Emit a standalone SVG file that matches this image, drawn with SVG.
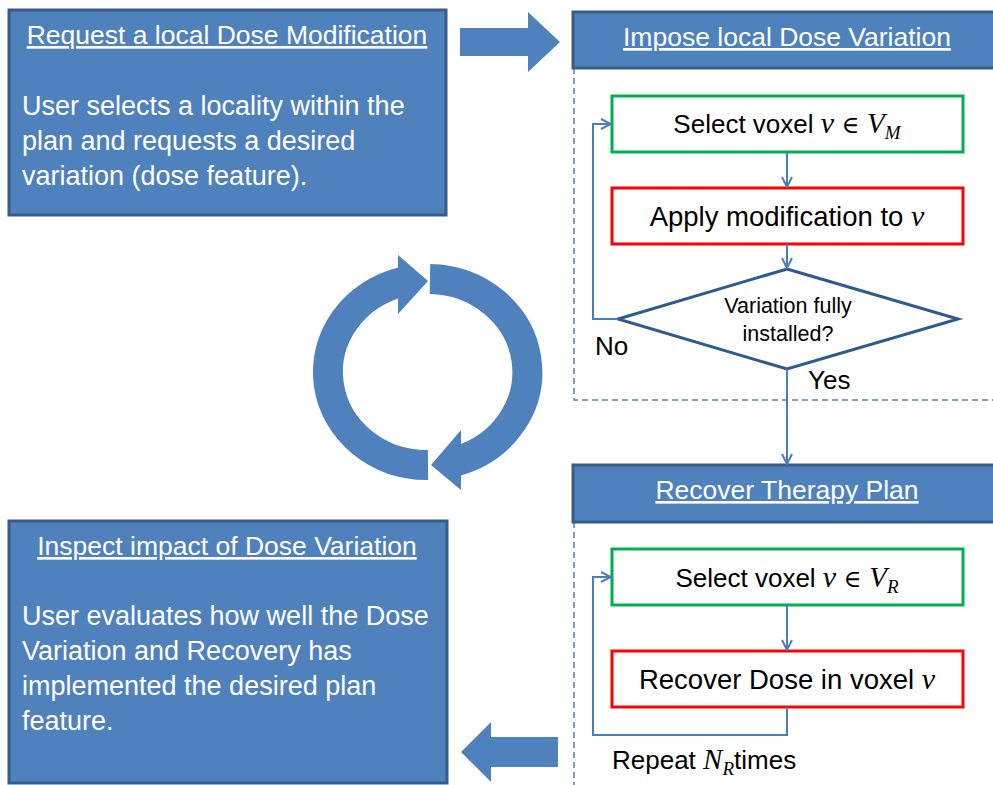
<svg xmlns="http://www.w3.org/2000/svg" width="993" height="785" viewBox="0 0 993 785">
  <style>
    .panel { fill: #4f81bd; stroke: #385d8a; stroke-width: 3; }
    .block { fill: #4f81bd; }
    .ring { fill: none; stroke: #4f81bd; stroke-width: 30; }
    .ttl { font-family: "Liberation Sans", Arial, sans-serif; font-size: 26.5px; fill: #ffffff; text-anchor: middle; text-decoration: underline; }
    .body { font-family: "Liberation Sans", Arial, sans-serif; font-size: 27px; fill: #ffffff; }
    .lbl { font-family: "Liberation Sans", Arial, sans-serif; font-size: 26px; fill: #000000; }
    .big { font-size: 27.5px; }
    .small { font-size: 21.5px; }
    .mid { text-anchor: middle; }
    .math { font-family: "Liberation Serif", "DejaVu Serif", serif; font-style: italic; }
    .sym { font-family: "DejaVu Serif", "Liberation Serif", serif; font-style: normal; }
    .ok { fill: #ffffff; stroke: #00b050; stroke-width: 3; }
    .act { fill: #ffffff; stroke: #ff0000; stroke-width: 3; }
    .dec { fill: #ffffff; stroke: #2f5a8c; stroke-width: 3; }
    .frame { fill: none; stroke: #4f81bd; stroke-width: 1.5; stroke-dasharray: 6 4; }
    .conn { fill: none; stroke: #4a7ebb; stroke-width: 2; }
  </style>
  <defs>
    <marker id="open" viewBox="0 0 12 12" refX="11" refY="6" markerWidth="12" markerHeight="12" markerUnits="userSpaceOnUse" orient="auto">
      <path d="M1,1 L11,6 L1,11" fill="none" stroke="#4a7ebb" stroke-width="2"/>
    </marker>
  </defs>

  <!-- dashed frames around the two procedures -->
  <g id="frames">
    <path class="frame" d="M574,68 V400 H993"/>
    <path class="frame" d="M574,522 V785"/>
  </g>

  <g id="request">
    <rect class="panel" x="9" y="10" width="437" height="205"/>
    <text class="ttl" x="227" y="44">Request a local Dose Modification</text>
    <text class="body" x="22" y="115">User selects a locality within the</text>
    <text class="body" x="22" y="150">plan and requests a desired</text>
    <text class="body" x="22" y="185">variation (dose feature).</text>
  </g>

  <g id="arrow-right">
    <polygon class="block" points="460,28 528,28 528,12 560,42 528,72 528,56 460,56"/>
  </g>

  <g id="impose">
    <rect class="panel" x="573" y="12" width="432" height="56"/>
    <text class="ttl" x="787" y="46">Impose local Dose Variation</text>
  </g>

  <g id="select-m">
    <rect class="ok" x="612" y="96" width="351" height="56"/>
    <text class="lbl mid" x="787" y="133">Select voxel <tspan class="math" font-size="30">v</tspan><tspan class="sym" font-size="24"> ∈ </tspan><tspan class="math" font-size="29">V</tspan><tspan class="math" font-size="19" dy="6">M</tspan></text>
  </g>

  <g id="apply">
    <rect class="act" x="612" y="188" width="351" height="56"/>
    <text class="lbl big mid" x="787" y="226">Apply modification to <tspan class="math" font-size="30">v</tspan></text>
  </g>

  <g id="check">
    <polygon class="dec" points="787,269 958,319 787,369 618,319"/>
    <text class="lbl small mid" x="788" y="313">Variation fully</text>
    <text class="lbl small mid" x="788" y="341">installed?</text>
  </g>

  <g id="recover">
    <rect class="panel" x="573" y="465" width="432" height="57"/>
    <text class="ttl" x="787" y="499">Recover Therapy Plan</text>
  </g>

  <g id="select-r">
    <rect class="ok" x="612" y="549" width="351" height="56"/>
    <text class="lbl mid" x="787" y="587">Select voxel <tspan class="math" font-size="30">v</tspan><tspan class="sym" font-size="24"> ∈ </tspan><tspan class="math" font-size="29">V</tspan><tspan class="math" font-size="19" dy="6">R</tspan></text>
  </g>

  <g id="recover-dose">
    <rect class="act" x="612" y="651" width="351" height="56"/>
    <text class="lbl big mid" x="787" y="689">Recover Dose in voxel <tspan class="math" font-size="30">v</tspan></text>
  </g>

  <g id="inspect">
    <rect class="panel" x="9" y="521" width="438" height="262"/>
    <text class="ttl" x="227" y="555">Inspect impact of Dose Variation</text>
    <text class="body" x="22" y="625">User evaluates how well the Dose</text>
    <text class="body" x="22" y="660">Variation and Recovery has</text>
    <text class="body" x="22" y="695">implemented the desired plan</text>
    <text class="body" x="22" y="730">feature.</text>
  </g>

  <g id="arrow-left">
    <polygon class="block" points="558,737 491,737 491,722 461,752 491,782 491,767 558,767"/>
  </g>

  <!-- cycle symbol -->
  <g id="cycle">
    <path class="ring" d="M430,279 A99,93 0 0 1 457,461"/>
    <polygon class="block" points="461,430 461,490 431,465"/>
    <path class="ring" d="M428,465 A99,93 0 0 1 402,282"/>
    <polygon class="block" points="398,255 398,314 428,281"/>
  </g>

  <g id="connectors">
    <path class="conn" d="M787,152 V187" marker-end="url(#open)"/>
    <path class="conn" d="M787,244 V268" marker-end="url(#open)"/>
    <path class="conn" d="M618,319 H593 V124 H611" marker-end="url(#open)"/>
    <path class="conn" d="M787,369 V464" marker-end="url(#open)"/>
    <path class="conn" d="M787,605 V650" marker-end="url(#open)"/>
    <path class="conn" d="M787,707 V735 H593 V577 H611" marker-end="url(#open)"/>
    <text class="lbl" x="595" y="355">No</text>
    <text class="lbl" x="808" y="389">Yes</text>
    <text class="lbl" x="612" y="769">Repeat <tspan class="math" font-size="29">N</tspan><tspan class="math" font-size="19" dy="6">R</tspan><tspan dy="-6">times</tspan></text>
  </g>
</svg>
